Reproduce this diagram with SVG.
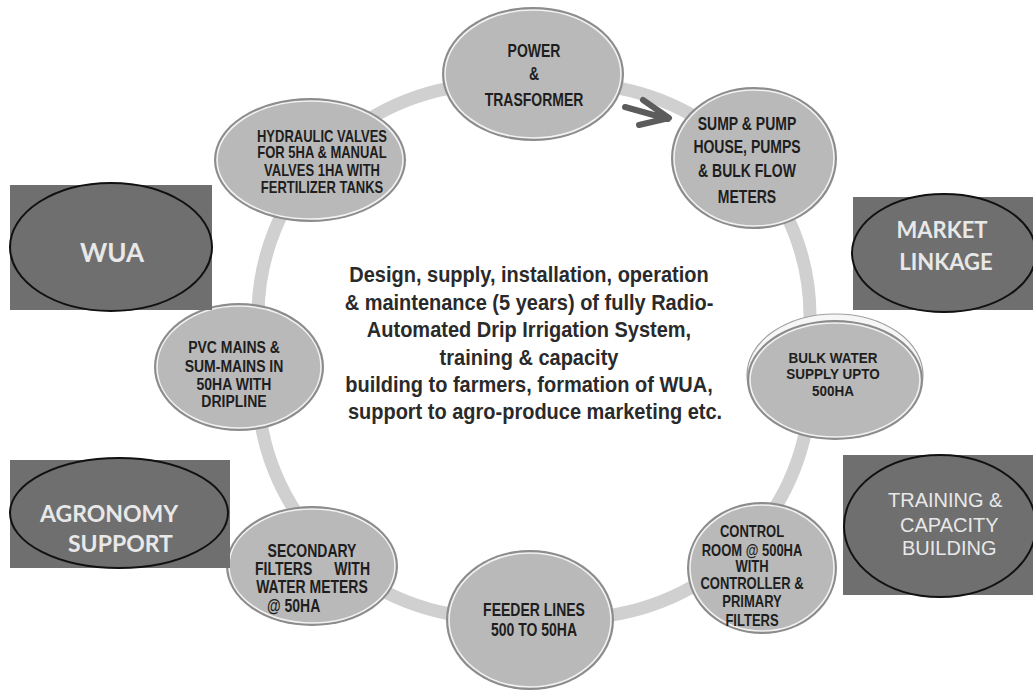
<svg xmlns="http://www.w3.org/2000/svg" width="1033" height="691" viewBox="0 0 1033 691">
<style>
.node-outer{fill:#8c8c8c;}
.node-inner{fill:#b9b9b9;stroke:#f2f2f2;stroke-width:1.6;}
.nt{font-family:"Liberation Sans",Arial,sans-serif;font-weight:bold;fill:#1e1e1e;text-anchor:middle;}
.side-rect{fill:#6f6f6f;}
.side-ell{fill:#6f6f6f;stroke:#111;stroke-width:2;}
.st{font-family:Lato,"Open Sans",sans-serif;font-weight:bold;fill:#e8e8e8;}
.st2{font-family:"Liberation Sans",Arial,sans-serif;fill:#e8e8e8;}
.ct{font-family:"Liberation Sans",Arial,sans-serif;font-weight:bold;fill:#2a2a2a;text-anchor:middle;}
</style>
<rect width="1033" height="691" fill="#ffffff"/>
<g id="connectors">
<rect x="258" y="84" width="552" height="534" rx="236" ry="232" fill="none" stroke="#d0d0d0" stroke-width="13"/>
<path d="M625,107 L668,119 M643,100 L669,118 L639,125" fill="none" stroke="#5c5c5c" stroke-width="6" stroke-linecap="round" stroke-linejoin="round"/>
</g>
<g id="center-text">
<text class="ct" font-size="20" transform="matrix(1,0,0,1.12,529,282)">Design, supply, installation, operation</text>
<text class="ct" font-size="20" transform="matrix(1,0,0,1.12,529,310)">&amp; maintenance (5 years) of fully Radio-</text>
<text class="ct" font-size="20" transform="matrix(1,0,0,1.12,529,337)">Automated Drip Irrigation System,</text>
<text class="ct" font-size="20" transform="matrix(1,0,0,1.12,529,365)">training &amp; capacity</text>
<text class="ct" font-size="20" transform="matrix(1,0,0,1.12,529,392)">building to farmers, formation of WUA,</text>
<text class="ct" font-size="20" transform="matrix(1,0,0,1.12,535,419)">support to agro-produce marketing etc.</text>
</g>
<g id="node-power">
<ellipse class="node-outer" cx="533" cy="74" rx="91" ry="67"/>
<ellipse class="node-inner" cx="533" cy="74" rx="88" ry="64"/>
<text class="nt" font-size="14" transform="matrix(1,0,0,1.28,534,56.7)">POWER</text>
<text class="nt" font-size="14" transform="matrix(1,0,0,1.28,534,80)">&amp;</text>
<text class="nt" font-size="14" transform="matrix(1,0,0,1.28,534,106)">TRASFORMER</text>
</g>
<g id="node-sump">
<ellipse class="node-outer" cx="754" cy="158" rx="83" ry="71"/>
<ellipse class="node-inner" cx="754" cy="158" rx="80" ry="68"/>
<text class="nt" font-size="14" transform="matrix(1,0,0,1.28,747,130)">SUMP &amp; PUMP</text>
<text class="nt" font-size="14" transform="matrix(1,0,0,1.28,747,153)">HOUSE, PUMPS</text>
<text class="nt" font-size="14" transform="matrix(1,0,0,1.28,747,176.7)">&amp; BULK FLOW</text>
<text class="nt" font-size="14" transform="matrix(1,0,0,1.28,747,203)">METERS</text>
</g>
<g id="node-bulk">
<ellipse cx="835" cy="375" rx="88" ry="61" fill="#f6f6f6" stroke="#a0a0a0" stroke-width="1.2"/>
<ellipse class="node-outer" cx="835" cy="380" rx="88" ry="60"/>
<ellipse class="node-inner" cx="835" cy="380" rx="85" ry="57"/>
<text class="nt" font-size="13.5" transform="matrix(1,0,0,1.1,833,363.3)">BULK WATER</text>
<text class="nt" font-size="13.5" transform="matrix(1,0,0,1.1,833,379.3)">SUPPLY UPTO</text>
<text class="nt" font-size="13.5" transform="matrix(1,0,0,1.1,833,396)">500HA</text>
</g>
<g id="node-control">
<ellipse class="node-outer" cx="762" cy="568" rx="75" ry="66"/>
<ellipse class="node-inner" cx="762" cy="568" rx="72" ry="63"/>
<text class="nt" font-size="13" transform="matrix(1,0,0,1.25,752,536.7)">CONTROL</text>
<text class="nt" font-size="13" transform="matrix(1,0,0,1.25,752,556)">ROOM @ 500HA</text>
<text class="nt" font-size="13" transform="matrix(1,0,0,1.25,752,571.7)">WITH</text>
<text class="nt" font-size="13" transform="matrix(1,0,0,1.25,752,589)">CONTROLLER &amp;</text>
<text class="nt" font-size="13" transform="matrix(1,0,0,1.25,752,607)">PRIMARY</text>
<text class="nt" font-size="13" transform="matrix(1,0,0,1.25,752,626)">FILTERS</text>
</g>
<g id="node-feeder">
<ellipse class="node-outer" cx="530" cy="620" rx="84" ry="70"/>
<ellipse class="node-inner" cx="530" cy="620" rx="81" ry="67"/>
<text class="nt" font-size="14" transform="matrix(1,0,0,1.28,534,616)">FEEDER LINES</text>
<text class="nt" font-size="14" transform="matrix(1,0,0,1.28,534,636)">500 TO 50HA</text>
</g>
<g id="node-secondary">
<ellipse class="node-outer" cx="312" cy="566" rx="86" ry="60"/>
<ellipse class="node-inner" cx="312" cy="566" rx="83" ry="57"/>
<text class="nt" font-size="14" transform="matrix(1,0,0,1.25,312,556.7)">SECONDARY</text>
<text class="nt" font-size="14" style="text-anchor:start" transform="matrix(1,0,0,1.25,255,575)">FILTERS</text>
<text class="nt" font-size="14" style="text-anchor:end" transform="matrix(1,0,0,1.25,370,575)">WITH</text>
<text class="nt" font-size="14" transform="matrix(1,0,0,1.25,312,592.7)">WATER METERS</text>
<text class="nt" font-size="14" style="text-anchor:start" transform="matrix(1,0,0,1.25,267,611.7)">@ 50HA</text>
</g>
<g id="node-pvc">
<ellipse class="node-outer" cx="239" cy="367" rx="85" ry="64"/>
<ellipse class="node-inner" cx="239" cy="367" rx="82" ry="61"/>
<text class="nt" font-size="14" transform="matrix(1,0,0,1.23,234,353)">PVC MAINS &amp;</text>
<text class="nt" font-size="14" transform="matrix(1,0,0,1.23,234,371.7)">SUM-MAINS IN</text>
<text class="nt" font-size="14" transform="matrix(1,0,0,1.23,234,390)">50HA WITH</text>
<text class="nt" font-size="14" transform="matrix(1,0,0,1.23,234,407)">DRIPLINE</text>
</g>
<g id="node-hydraulic">
<ellipse class="node-outer" cx="310" cy="160" rx="96" ry="62"/>
<ellipse class="node-inner" cx="310" cy="160" rx="93" ry="59"/>
<text class="nt" font-size="13" transform="matrix(1,0,0,1.26,322,141.5)">HYDRAULIC VALVES</text>
<text class="nt" font-size="13" transform="matrix(1,0,0,1.26,322,158.3)">FOR 5HA &amp; MANUAL</text>
<text class="nt" font-size="13" transform="matrix(1,0,0,1.26,322,176)">VALVES 1HA WITH</text>
<text class="nt" font-size="13" transform="matrix(1,0,0,1.26,322,192.7)">FERTILIZER TANKS</text>
</g>
<g id="side-wua">
<rect class="side-rect" x="10" y="185" width="202" height="125"/>
<ellipse class="side-ell" cx="111" cy="247" rx="101" ry="64"/>
<text class="st" font-size="26" x="112" y="262" text-anchor="middle">WUA</text>
</g>
<g id="side-market">
<rect class="side-rect" x="853" y="197" width="180" height="113"/>
<ellipse class="side-ell" cx="944" cy="253" rx="92" ry="59"/>
<text class="st" font-size="22" x="942" y="238" text-anchor="middle">MARKET</text>
<text class="st" font-size="22" x="946" y="270" text-anchor="middle">LINKAGE</text>
</g>
<g id="side-agronomy">
<rect class="side-rect" x="10" y="460" width="220" height="108"/>
<ellipse class="side-ell" cx="119" cy="513" rx="109" ry="55"/>
<text class="st" font-size="23" x="40" y="521.7">AGRONOMY</text>
<text class="st" font-size="23" x="68" y="552">SUPPORT</text>
</g>
<g id="side-training">
<rect class="side-rect" x="843" y="455" width="190" height="140"/>
<ellipse class="side-ell" cx="940" cy="526" rx="96" ry="71"/>
<text class="st2" font-size="20" x="888" y="507">TRAINING &amp;</text>
<text class="st2" font-size="20" x="900" y="532">CAPACITY</text>
<text class="st2" font-size="20" x="902" y="555">BUILDING</text>
</g>
</svg>
